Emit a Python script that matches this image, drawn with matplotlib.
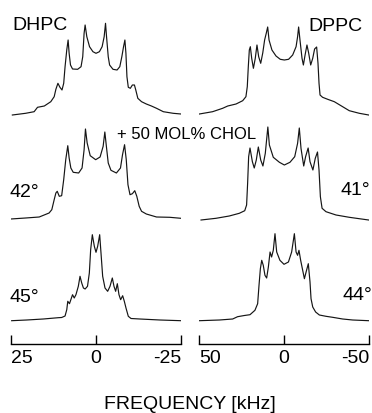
import matplotlib.pyplot as plt

plt.rcParams["font.family"] = ["Liberation Sans", "DejaVu Sans"]

# 2H-NMR spectra: frequency (kHz) and height above baseline (arb. units)
# DHPC, no cholesterol
dhpc_top_f = [24.6, 20.7, 18.2, 17.2, 15.2, 13.3, 12.3, 11.8, 11.2, 10.6, 10.0, 9.5, 9.1, 8.6, 8.2,
              7.9, 7.5, 6.9, 5.4, 4.4, 3.9, 3.5, 3.2, 2.7, 1.9, 0.9, 0.0, -1.0, -1.8, -2.4, -2.8,
              -3.1, -3.6, -4.0, -5.0, -6.2, -7.0, -7.6, -8.1, -8.5, -8.8, -9.1, -9.5, -10.1, -10.7,
              -11.3, -11.7, -12.3, -13.4, -14.8, -16.3, -17.8, -19.8, -22.7, -25.0]
dhpc_top_h = [0, 1.7, 3.3, 7.7, 9, 13.3, 18.3, 25.7, 31.7, 27.7, 25, 31.7, 48.3, 65, 75,
              61.7, 50, 46, 45.7, 48.3, 58.3, 81.7, 90, 78.3, 68.3, 63.3, 61.7, 63.3, 68.3, 78.3, 91.7,
              78.3, 58.3, 50, 45.7, 45, 48.3, 58.3, 68.3, 75, 61.7, 38.3, 27.7, 26.7, 30,
              30, 25, 16.7, 13.3, 11, 9, 6.7, 3.3, 1.7, 1]

# DPPC, no cholesterol
dppc_top_f = [49.8, 42.0, 36.1, 33.1, 28.2, 24.3, 22.4, 21.6, 21.0, 20.4, 19.8, 19.0, 18.0, 16.9,
              15.9, 14.9, 13.7, 12.5, 11.4, 10.4, 9.6, 8.8, 7.1, 4.7, 2.2, -0.2, -2.7, -5.1, -7.1,
              -8.0, -8.6, -9.4, -10.6, -11.4, -12.4, -13.5, -14.5, -15.7, -16.9, -18.0, -19.2,
              -20.0, -20.6, -21.2, -22.7, -25.7, -29.6, -34.5, -38.4, -44.3, -49.8]
dppc_top_h = [1, 3.3, 6.7, 9, 11, 14.3, 18.3, 28.3, 48.3, 65, 68.3, 56.7, 46.7, 56.7,
              70, 58.3, 51.7, 62, 75, 82, 88, 75, 65, 59, 55.7, 55, 55.7, 60, 68.3,
              78.3, 88, 75, 56.7, 50, 60, 70, 62, 50, 56.7, 66, 68,
              51.7, 31.7, 20, 17.7, 15.7, 13.3, 8.3, 4.3, 1.7, 0]

# DHPC + 50 mol% cholesterol, 42 deg
dhpc_42_f = [25.1, 20.7, 16.7, 13.8, 13.0, 12.3, 11.8, 11.4, 10.8, 10.1, 9.5, 8.9, 8.3, 7.9, 7.4,
             6.7, 5.1, 4.1, 3.5, 3.1, 2.6, 1.7, 0.1, -1.2, -2.1, -2.6, -3.0, -3.6, -4.4, -6.0,
             -7.2, -7.8, -8.4, -8.9, -9.4, -10.0, -10.7, -11.4, -12.0, -12.7, -13.4, -14.8,
             -17.8, -21.7, -25.0]
dhpc_42_h = [0, 1, 2, 6, 9.3, 19.3, 26, 27.7, 22.7, 23.3, 39.3, 59.3, 73.3, 61, 51,
             46.7, 46, 51, 69.3, 90, 76, 63.3, 59.3, 62, 72.7, 87, 74.3, 56, 48.7, 46,
             51, 64.3, 74.3, 59.3, 34.3, 24.3, 25.3, 28.3, 22.7, 12.7, 7.7, 5,
             2, 1.7, 0.7]

# DPPC + 50 mol% cholesterol, 41 deg
dppc_41_f = [48.8, 40.0, 32.2, 26.3, 23.1, 22.0, 21.4, 20.8, 20.0, 18.6, 17.5, 16.3, 15.1, 13.7,
             12.4, 11.0, 9.5, 8.6, 6.3, 2.7, -0.2, -3.5, -6.3, -8.0, -9.0, -10.0, -11.6, -12.7,
             -14.2, -15.3, -17.0, -18.4, -19.7, -20.6, -21.4, -22.4, -24.7, -30.6, -38.4,
             -44.3, -49.8]
dppc_41_h = [0, 1.7, 4, 6.7, 9.3, 15, 36.7, 63.3, 72, 58.3, 52, 60, 73, 60,
             54, 66.7, 93, 75, 62.7, 57.7, 55, 57.7, 63.3, 76.7, 92, 71.7, 54, 63.3,
             72, 58.3, 50, 61.7, 68, 50, 23.3, 11.7, 8.3, 5, 2.7,
             1.3, 0]

# DHPC + 50 mol% cholesterol, 45 deg
dhpc_45_f = [24.8, 20.4, 15.5, 11.1, 10.1, 9.1, 8.6, 8.3, 7.8, 7.4, 6.9, 6.4, 5.9, 5.2, 4.7, 4.2,
             3.7, 3.2, 2.5, 1.96, 1.57, 1.08, 0.49, 0.0, -0.49, -1.08, -1.47, -1.96, -2.65,
             -3.43, -4.12, -4.8, -5.29, -5.78, -6.27, -6.76, -7.25, -7.84, -8.33, -8.82, -9.5,
             -10.3, -12.9, -18.8, -25.0]
dhpc_45_h = [0.3, 1, 2, 3.3, 3.5, 5, 11.3, 19.7, 17.3, 21.3, 26.3, 23, 26.3, 34.7, 44.7, 38,
             33, 32, 34.7, 48, 71.3, 86.3, 74.7, 68.7, 74.7, 86.3, 68, 44.7, 33,
             29.7, 34.7, 43, 34.7, 29.7, 37.3, 26.3, 21.3, 25.3, 19.7, 13, 4.7,
             2.5, 2, 1, 0.3]

# DPPC + 50 mol% cholesterol, 44 deg
dppc_44_f = [49.8, 38.0, 30.2, 27.3, 23.3, 20.0, 17.1, 15.5, 14.7, 13.9, 13.1, 12.2, 11.2, 10.2,
             9.2, 8.2, 7.3, 6.3, 5.3, 4.3, 2.4, 0.0, -2.6, -4.5, -6.1, -7.1, -8.0, -8.8, -9.8,
             -10.8, -12.0, -13.0, -14.3, -15.3, -15.9, -16.9, -18.6, -20.8, -24.7, -28.6,
             -34.5, -40.4, -49.8]
dppc_44_h = [0.3, 1, 2, 4.3, 5.5, 6.3, 10.7, 17.3, 35.7, 52.3, 60.7, 55.7, 45.7, 43,
             54, 69, 64, 70.7, 87.3, 69, 60.7, 56.7, 59, 69, 87.3, 69, 65.7, 70.7, 60.7,
             52.3, 42.3, 49, 57.3, 39, 22.3, 14, 9, 6, 4.7, 3.7,
             2, 1, 0.3]

left_ticks = [25, 0, -25]
left_ticklabels = ["25", "0", "-25"]
right_ticks = [50, 0, -50]
right_ticklabels = ["50", "0", "-50"]

W, H = 372, 413
fig = plt.figure(figsize=(W / 100, H / 100), dpi=100)
fig.patch.set_facecolor("white")


def fx(x):
    return x / W


def fy(y):
    return 1 - y / H


def make_axes(x0, x1, lim, ticks, labels):
    ax = fig.add_axes([fx(x0), fy(344), (x1 - x0) / W, 344 / H])
    ax.set_xlim(lim, -lim)
    ax.set_ylim(0, 344)
    for s in ["top", "left", "right"]:
        ax.spines[s].set_visible(False)
    ax.spines["bottom"].set_linewidth(1.0)
    ax.set_yticks([])
    ax.set_xticks(ticks, labels=labels)
    ax.tick_params(axis="x", direction="in", length=6.5, width=1.0, pad=4,
                   labelsize=14, colors="black")
    for lbl, ha in zip(ax.get_xticklabels(), ["left", "center", "right"]):
        lbl.set_ha(ha)
    ax.patch.set_alpha(0)
    return ax


ax_l = make_axes(11, 181, 25, left_ticks, left_ticklabels)
ax_r = make_axes(199, 369, 50, right_ticks, right_ticklabels)

lw = 0.85
col = "#151515"
# baselines of the three rows (upward from the frequency axis)
base_top, base_mid, base_bot = 229, 125, 23

ax_l.plot(dhpc_top_f, [base_top + v for v in dhpc_top_h], color=col, lw=lw)
ax_l.plot(dhpc_42_f, [base_mid + v for v in dhpc_42_h], color=col, lw=lw)
ax_l.plot(dhpc_45_f, [base_bot + v for v in dhpc_45_h], color=col, lw=lw)
ax_r.plot(dppc_top_f, [base_top + v for v in dppc_top_h], color=col, lw=lw)
ax_r.plot(dppc_41_f, [base_mid - 1 + v for v in dppc_41_h], color=col, lw=lw)
ax_r.plot(dppc_44_f, [base_bot + v for v in dppc_44_h], color=col, lw=lw)

fig.text(fx(12), fy(30), "DHPC", fontsize=14, va="baseline", ha="left")
fig.text(fx(362), fy(31), "DPPC", fontsize=14, va="baseline", ha="right")
fig.text(fx(187), fy(139), "+ 50 MOL% CHOL", fontsize=12, va="baseline", ha="center")
fig.text(fx(10), fy(197), "42°", fontsize=14, va="baseline", ha="left")
fig.text(fx(370), fy(195), "41°", fontsize=14, va="baseline", ha="right")
fig.text(fx(10), fy(302), "45°", fontsize=14, va="baseline", ha="left")
fig.text(fx(372), fy(300), "44°", fontsize=14, va="baseline", ha="right")
fig.text(fx(190), fy(409), "FREQUENCY [kHz]", fontsize=14, va="baseline", ha="center")

fig.savefig("out.png", dpi=100)
